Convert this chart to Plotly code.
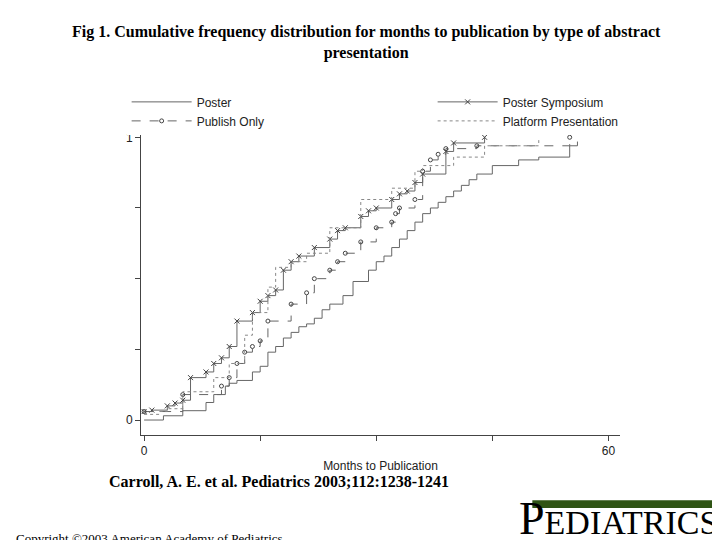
import plotly.graph_objects as go

# step data (month, cumulative fraction)
poster_x = [0, 2.5, 5, 8, 9, 10.5, 11, 12, 14, 15, 16, 17, 18, 19, 20, 21, 22, 23, 24, 25.7, 27, 29, 30,
            31, 32, 33, 34, 35, 36, 37, 38, 39, 40, 41, 42, 43, 45, 48.4, 51, 55, 56]
poster_y = [0, 0.015, 0.033, 0.062, 0.09, 0.12, 0.13, 0.14, 0.17, 0.19, 0.24, 0.26, 0.29, 0.31, 0.33, 0.34,
            0.36, 0.39, 0.41, 0.44, 0.49, 0.53, 0.56, 0.58, 0.61, 0.64, 0.67, 0.70, 0.73, 0.75, 0.77, 0.79,
            0.81, 0.83, 0.85, 0.87, 0.90, 0.92, 0.93, 0.97, 0.985]

symp_x = [0, 1, 3, 4, 5, 6, 8, 9, 10, 11, 12, 14, 15, 16, 17, 18, 19, 20, 22, 24, 25, 26, 28, 29, 30,
          32, 33, 34, 35, 36, 39, 40, 44]
symp_y = [0.03, 0.035, 0.05, 0.06, 0.07, 0.15, 0.17, 0.2, 0.22, 0.26, 0.35, 0.38, 0.42, 0.44, 0.46,
          0.53, 0.56, 0.58, 0.61, 0.64, 0.67, 0.68, 0.72, 0.74, 0.75, 0.78, 0.8, 0.81, 0.84, 0.87, 0.95,
          0.98, 1.0]

pub_x = [0, 5, 10, 11, 12, 13, 14, 15, 16, 19, 21, 22, 24, 25, 26, 28, 30, 32, 32.5, 33, 35, 36, 37,
         38, 39, 43, 55]
pub_y = [0.03, 0.09, 0.12, 0.15, 0.2, 0.24, 0.26, 0.28, 0.35, 0.41, 0.45, 0.5, 0.53, 0.56, 0.59, 0.63,
         0.68, 0.7, 0.73, 0.75, 0.78, 0.88, 0.92, 0.94, 0.96, 0.97, 1.0]

plat_x = [0, 2, 3, 5, 9, 11, 13, 14, 16, 17, 19, 21, 24, 28, 32, 35, 36, 40, 44, 51]
plat_y = [0.02, 0.03, 0.04, 0.1, 0.15, 0.2, 0.3, 0.38, 0.47, 0.54, 0.56, 0.59, 0.68, 0.78, 0.82, 0.88,
          0.9, 0.93, 0.97, 0.99]

gray = "#666"
fig = go.Figure()
fig.add_trace(go.Scatter(x=poster_x, y=poster_y, name="Poster", mode="lines",
                         line=dict(shape="hv", color=gray, width=1)))
fig.add_trace(go.Scatter(x=symp_x, y=symp_y, name="Poster Symposium", mode="lines+markers",
                         line=dict(shape="hv", color=gray, width=1),
                         marker=dict(symbol="x-thin-open", size=5, color="#444", line=dict(width=1, color="#444"))))
fig.add_trace(go.Scatter(x=pub_x, y=pub_y, name="Publish Only", mode="lines+markers",
                         line=dict(shape="hv", color=gray, width=1, dash="dash"),
                         marker=dict(symbol="circle-open", size=4, color="#444")))
fig.add_trace(go.Scatter(x=plat_x, y=plat_y, name="Platform Presentation", mode="lines",
                         line=dict(shape="hv", color="#888", width=1, dash="dot")))

fig.update_layout(
    width=720, height=540, paper_bgcolor="white", plot_bgcolor="white",
    margin=dict(l=133, r=108, t=118, b=113, autoexpand=False),
    font=dict(family="Liberation Sans", size=12, color="#222"),
    legend=dict(orientation="h", x=-0.03, y=1.125, xanchor="left", yanchor="top",
                entrywidth=0.5, entrywidthmode="fraction", traceorder="normal",
                font=dict(size=12), tracegroupgap=0, itemwidth=60),
    xaxis=dict(range=[-0.4, 61.5], tickvals=[0, 15, 30, 45, 60], ticktext=["0", "", "", "", "60"],
               ticks="outside", ticklen=5, showline=True, linecolor="#444", showgrid=False, zeroline=False,
               title=dict(text="Months to Publication", font=dict(size=12), standoff=4)),
    yaxis=dict(range=[-0.053, 1.04], tickvals=[0, 0.25, 0.5, 0.75, 1], ticktext=["0", "", "", "", "1"],
               ticks="outside", ticklen=5, showline=True, linecolor="#444", showgrid=False, zeroline=False),
)

fig.add_annotation(text="<b>Fig 1. Cumulative frequency distribution for months to publication by type of abstract<br>presentation</b>",
                   xref="paper", yref="paper", x=0.47, y=1.34, xanchor="center", yanchor="top", showarrow=False,
                   font=dict(family="Liberation Serif", size=16, color="black"))
fig.add_annotation(text="<b>Carroll, A. E. et al. Pediatrics 2003;112:1238-1241</b>",
                   xref="paper", yref="paper", x=-0.07, y=-0.115, xanchor="left", yanchor="top", showarrow=False,
                   font=dict(family="Liberation Serif", size=16, color="black"))
fig.add_annotation(text="Copyright ©2003 American Academy of Pediatrics",
                   xref="paper", yref="paper", x=-0.265, y=-0.366, xanchor="left", yanchor="bottom", showarrow=False,
                   font=dict(family="Liberation Serif", size=13, color="black"))
fig.add_shape(type="rect", xref="paper", yref="paper", x0=0.817, x1=1.217, y0=-0.236, y1=-0.211,
              fillcolor="#2f5414", line=dict(width=0))
fig.add_annotation(text="P<span style='font-size:34px'>EDIATRICS</span><span style='font-size:8px'>®</span>",
                   xref="paper", yref="paper", x=1.222, y=-0.36, xanchor="right", yanchor="bottom", showarrow=False,
                   font=dict(family="Liberation Serif", size=46, color="black"))

fig.write_html("out.html")
